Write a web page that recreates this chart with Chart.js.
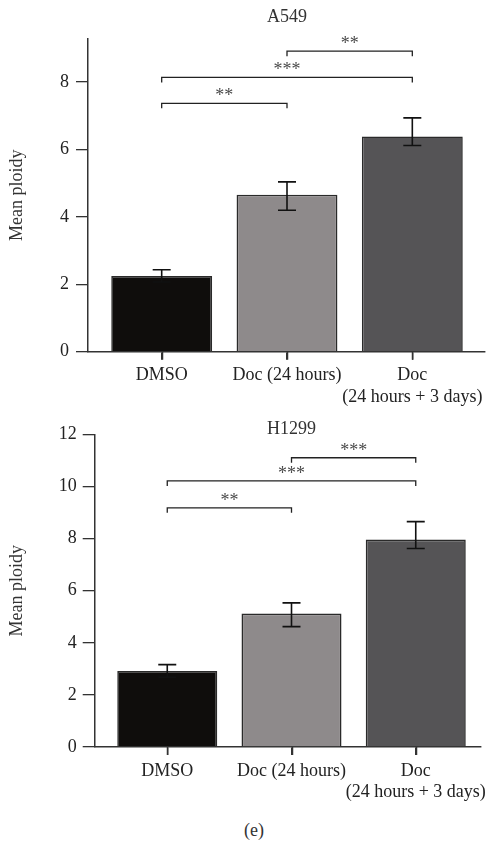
<!DOCTYPE html>
<html><head><meta charset="utf-8">
<script src="https://cdn.jsdelivr.net/npm/chart.js@4"></script>
<style>
html,body{margin:0;padding:0;background:#fff;width:492px;height:844px;overflow:hidden}
canvas{position:absolute;left:0}
#c1{top:0}
#c2{top:415px}
#cap{position:absolute;top:819px;left:0;width:508px;text-align:center;font:18px "Liberation Serif";line-height:22px;color:#333}
</style></head><body>
<canvas id="c1" width="492" height="415" style="width:492px;height:415px"></canvas>
<canvas id="c2" width="492" height="395" style="width:492px;height:395px"></canvas>
<div id="cap">(e)</div>
<script>
// ---- data ----
const categories = [['DMSO'], ['Doc (24 hours)'], ['Doc', '(24 hours + 3 days)']];
const categoryPos = [1, 2, 3];
const barColors = ['#0f0d0c', '#8e8a8b', '#555456'];

const a549Mean = [2.25, 4.66, 6.39];
const a549ErrLow = [2.07, 4.20, 6.12];
const a549ErrHigh = [2.43, 5.04, 6.94];
const a549Ticks = [0, 2, 4, 6, 8];
const a549SigFrom = [1, 1, 2];
const a549SigTo = [2, 3, 3];
const a549SigLevel = [7.37, 8.14, 8.92];
const a549SigLabel = ['**', '***', '**'];

const h1299Mean = [2.92, 5.12, 7.96];
const h1299ErrLow = [2.68, 4.62, 7.62];
const h1299ErrHigh = [3.16, 5.53, 8.65];
const h1299Ticks = [0, 2, 4, 6, 8, 10, 12];
const h1299SigFrom = [1, 1, 2];
const h1299SigTo = [2, 3, 3];
const h1299SigLevel = [9.18, 10.21, 11.10];
const h1299SigLabel = ['**', '***', '***'];

const FONT = '"Liberation Serif", "DejaVu Serif", serif';
const AXIS = '#333';

function overlay(o) {
  return {
    id: 'overlay',
    afterDatasetsDraw(chart) {
      const ctx = chart.ctx, xs = chart.scales.x, ys = chart.scales.y;
      ctx.save();
      // error bars
      ctx.strokeStyle = '#111';
      ctx.lineWidth = 1.6;
      o.low.forEach((lo, i) => {
        const px = xs.getPixelForValue(categoryPos[i]);
        const yl = ys.getPixelForValue(lo), yh = ys.getPixelForValue(o.high[i]);
        ctx.beginPath();
        ctx.moveTo(px, yl); ctx.lineTo(px, yh);
        ctx.moveTo(px - 9, yh); ctx.lineTo(px + 9, yh);
        ctx.moveTo(px - 9, yl); ctx.lineTo(px + 9, yl);
        ctx.stroke();
      });
      // x-axis category tick marks
      ctx.strokeStyle = AXIS;
      ctx.lineWidth = 1.5;
      const yb = chart.chartArea.bottom;
      categoryPos.forEach(v => {
        const px = Math.round(xs.getPixelForValue(v)) + 0.5;
        ctx.beginPath();
        ctx.moveTo(px, yb); ctx.lineTo(px, yb + 8);
        ctx.stroke();
      });
      // significance brackets
      ctx.strokeStyle = '#222';
      ctx.lineWidth = 1.3;
      ctx.fillStyle = '#4a4a4a';
      ctx.font = '18px ' + FONT;
      ctx.textAlign = 'center';
      ctx.textBaseline = 'alphabetic';
      o.sigFrom.forEach((f, i) => {
        const x1 = xs.getPixelForValue(f), x2 = xs.getPixelForValue(o.sigTo[i]);
        const yy = ys.getPixelForValue(o.sigLevel[i]);
        ctx.beginPath();
        ctx.moveTo(x1, yy + 5); ctx.lineTo(x1, yy); ctx.lineTo(x2, yy); ctx.lineTo(x2, yy + 5);
        ctx.stroke();
        ctx.fillText(o.sigLabel[i], (x1 + x2) / 2, yy - 2);
      });
      // title
      ctx.fillStyle = '#333';
      ctx.font = '18px ' + FONT;
      ctx.textBaseline = 'middle';
      ctx.fillText(o.title, xs.getPixelForValue(2), o.titleY);
      ctx.restore();
    }
  };
}

function makeChart(id, cfg) {
  return new Chart(document.getElementById(id), {
    type: 'bar',
    data: {
      datasets: [{
        data: cfg.mean.map((v, i) => ({x: categoryPos[i], y: v})),
        backgroundColor: barColors,
        borderColor: '#2a2a2a',
        borderWidth: 1.6,
        borderSkipped: 'bottom',
        barPercentage: 0.805,
        categoryPercentage: 1
      }]
    },
    options: {
      responsive: false,
      animation: false,
      events: [],
      layout: {padding: {top: cfg.padTop, right: 7, left: 0, bottom: 0}},
      plugins: {legend: {display: false}, tooltip: {enabled: false}, title: {display: false}},
      scales: {
        x: {
          type: 'linear',
          offset: false,
          bounds: 'data',
          min: cfg.xMin, max: cfg.xMax,
          afterBuildTicks: s => { s.ticks = categoryPos.map(v => ({value: v})); },
          afterFit: s => { s.height = cfg.xHeight; },
          ticks: {
            autoSkip: false, maxRotation: 0, minRotation: 0,
            padding: 5,
            color: '#222',
            font: {family: FONT, size: 18, lineHeight: 1.2},
            callback: v => categories[categoryPos.indexOf(v)]
          },
          grid: {offset: false, drawOnChartArea: false, drawTicks: true, tickLength: 8, color: AXIS, lineWidth: 1.4},
          border: {display: true, color: AXIS, width: 1.5}
        },
        y: {
          min: 0, max: cfg.yMax,
          afterBuildTicks: s => { s.ticks = cfg.ticks.map(v => ({value: v})); },
          afterFit: s => { s.width = cfg.yWidth; },
          ticks: {padding: cfg.yPad, color: '#222', font: {family: FONT, size: 18}},
          grid: {drawOnChartArea: false, drawTicks: true, tickLength: 12, color: AXIS, lineWidth: 1.3},
          border: {display: true, color: AXIS, width: 1.5},
          title: {display: true, text: 'Mean ploidy', color: '#333', font: {family: FONT, size: 18}, padding: {top: 6, bottom: 0}}
        }
      }
    },
    plugins: [overlay(cfg)]
  });
}

makeChart('c1', {
  mean: a549Mean, low: a549ErrLow, high: a549ErrHigh, ticks: a549Ticks,
  sigFrom: a549SigFrom, sigTo: a549SigTo, sigLevel: a549SigLevel, sigLabel: a549SigLabel,
  title: 'A549', titleY: 17.3,
  padTop: 39, yMax: 9.28, xMin: 0.412, xMax: 3.58, xHeight: 63.3, yWidth: 88, yPad: 7
});
makeChart('c2', {
  mean: h1299Mean, low: h1299ErrLow, high: h1299ErrHigh, ticks: h1299Ticks,
  sigFrom: h1299SigFrom, sigTo: h1299SigTo, sigLevel: h1299SigLevel, sigLabel: h1299SigLabel,
  title: 'H1299', titleY: 14.3,
  padTop: 19.3, yMax: 12, xMin: 0.416, xMax: 3.526, xHeight: 63, yWidth: 94.7, yPad: 6
});
</script>
</body></html>
